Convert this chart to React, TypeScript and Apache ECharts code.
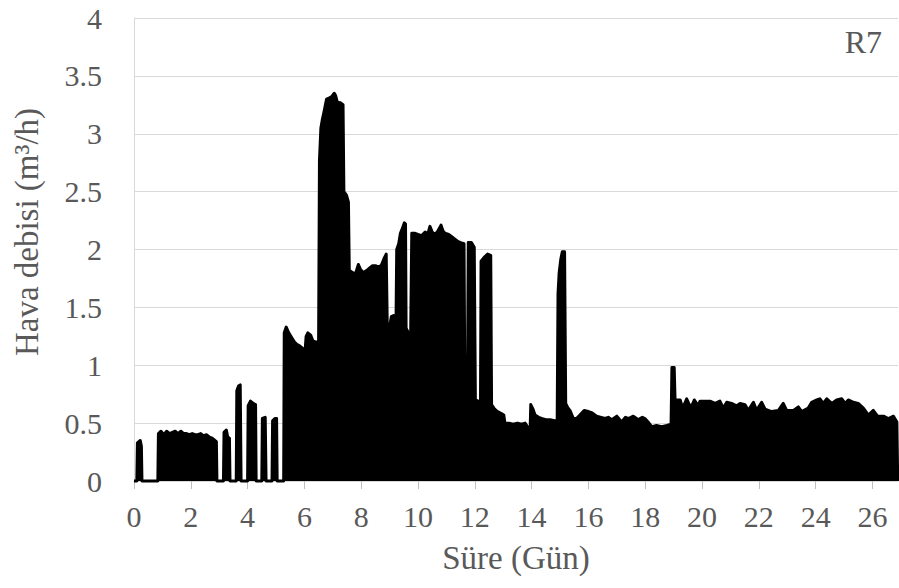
import React, { useEffect, useRef } from "react";
import * as echarts from "echarts";

// Time (days) and air flow rate (m3/h)
const times: number[] = [
  0, 0.10, 0.12, 0.22, 0.26, 0.28, 0.84, 0.86, 0.95, 1.05, 1.15, 1.25, 1.35, 1.45, 1.55, 1.65,
  1.75, 1.85, 1.95, 2.05, 2.15, 2.25, 2.35, 2.45, 2.55, 2.65, 2.75, 2.85, 2.90, 2.92, 3.15, 3.17,
  3.25, 3.30, 3.36, 3.38, 3.60, 3.62, 3.68, 3.74, 3.77, 4.00, 4.02, 4.10, 4.20, 4.28, 4.30, 4.50,
  4.52, 4.62, 4.65, 4.86, 4.88, 4.96, 5.02, 5.04, 5.27, 5.29, 5.36, 5.45, 5.55, 5.65, 5.73, 5.82,
  5.92, 6.02, 6.06, 6.12, 6.22, 6.30, 6.40, 6.50, 6.53, 6.58, 6.63, 6.70, 6.78, 6.88, 6.96, 7.05,
  7.10, 7.17, 7.25, 7.36, 7.39, 7.48, 7.55, 7.58, 7.70, 7.80, 7.90, 7.97, 8.07, 8.20, 8.30, 8.40,
  8.50, 8.60, 8.70, 8.80, 8.88, 8.92, 9.00, 9.06, 9.14, 9.17, 9.22, 9.25, 9.32, 9.38, 9.46, 9.52,
  9.56, 9.58, 9.68, 9.74, 9.78, 9.88, 10.00, 10.13, 10.25, 10.35, 10.42, 10.50, 10.60, 10.70, 10.81, 10.88,
  10.95, 11.08, 11.19, 11.30, 11.40, 11.50, 11.62, 11.65, 11.74, 11.77, 11.88, 11.98, 12.02, 12.12, 12.20, 12.22,
  12.32, 12.45, 12.56, 12.59, 12.70, 12.80, 12.95, 13.02, 13.06, 13.20, 13.35, 13.50, 13.65, 13.77, 13.88, 13.95,
  13.97, 14.05, 14.12, 14.25, 14.35, 14.50, 14.65, 14.80, 14.90, 14.93, 14.97, 15.03, 15.08, 15.16, 15.20, 15.28,
  15.35, 15.47, 15.58, 15.70, 15.85, 16.00, 16.12, 16.29, 16.45, 16.58, 16.70, 16.82, 17.00, 17.17, 17.30, 17.41,
  17.58, 17.76, 17.90, 17.99, 18.10, 18.23, 18.40, 18.58, 18.76, 18.91, 18.94, 19.02, 19.05, 19.23, 19.32, 19.46,
  19.55, 19.64, 19.73, 19.87, 19.93, 20.11, 20.28, 20.46, 20.63, 20.75, 20.87, 21.04, 21.22, 21.34, 21.51, 21.63,
  21.81, 21.92, 22.10, 22.22, 22.45, 22.69, 22.86, 22.98, 23.22, 23.39, 23.51, 23.74, 23.86, 24.04, 24.15, 24.27,
  24.39, 24.57, 24.74, 24.92, 25.04, 25.15, 25.33, 25.50, 25.68, 25.86, 26.03, 26.18, 26.39, 26.56, 26.74, 26.86,
  26.89,
];

const flow: number[] = [
  0, 0, 0.33, 0.35, 0.30, 0, 0, 0.41, 0.43, 0.40, 0.43, 0.41, 0.42, 0.43, 0.41, 0.43,
  0.41, 0.41, 0.40, 0.41, 0.40, 0.40, 0.41, 0.39, 0.40, 0.38, 0.37, 0.35, 0.34, 0, 0, 0.42,
  0.44, 0.38, 0.37, 0, 0, 0.78, 0.82, 0.83, 0, 0, 0.65, 0.69, 0.67, 0.66, 0, 0,
  0.54, 0.55, 0, 0, 0.52, 0.54, 0.54, 0, 0, 1.28, 1.33, 1.28, 1.24, 1.20, 1.18, 1.17,
  1.15, 1.11, 1.25, 1.28, 1.26, 1.21, 1.20, 1.20, 2.77, 3.05, 3.12, 3.20, 3.30, 3.31, 3.32, 3.35,
  3.33, 3.26, 3.27, 3.25, 2.50, 2.47, 2.41, 1.82, 1.80, 1.79, 1.87, 1.83, 1.80, 1.82, 1.84, 1.86,
  1.86, 1.85, 1.86, 1.92, 1.96, 1.30, 1.33, 1.42, 1.43, 1.24, 1.22, 2.00, 2.05, 2.14, 2.19, 2.23,
  2.22, 1.32, 1.27, 1.25, 2.14, 2.14, 2.13, 2.12, 2.15, 2.14, 2.20, 2.15, 2.13, 2.16, 2.21, 2.16,
  2.14, 2.13, 2.11, 2.09, 2.07, 2.06, 2.05, 0.72, 0.72, 2.06, 2.06, 2.02, 0.70, 0.69, 0.68, 1.90,
  1.93, 1.96, 1.95, 0.66, 0.62, 0.60, 0.58, 0.57, 0.50, 0.50, 0.49, 0.50, 0.49, 0.50, 0.46, 0.46,
  0.66, 0.62, 0.57, 0.55, 0.54, 0.53, 0.53, 0.52, 0.52, 1.62, 1.80, 1.92, 1.98, 1.98, 0.67, 0.63,
  0.61, 0.54, 0.54, 0.57, 0.61, 0.60, 0.59, 0.56, 0.55, 0.54, 0.55, 0.53, 0.56, 0.51, 0.55, 0.54,
  0.56, 0.53, 0.55, 0.54, 0.51, 0.47, 0.48, 0.47, 0.48, 0.49, 0.98, 0.98, 0.70, 0.70, 0.63, 0.71,
  0.66, 0.65, 0.70, 0.65, 0.69, 0.69, 0.69, 0.67, 0.69, 0.63, 0.68, 0.67, 0.65, 0.67, 0.66, 0.61,
  0.68, 0.61, 0.68, 0.62, 0.60, 0.61, 0.67, 0.61, 0.61, 0.64, 0.60, 0.63, 0.68, 0.70, 0.71, 0.67,
  0.71, 0.67, 0.70, 0.71, 0.67, 0.70, 0.68, 0.67, 0.63, 0.57, 0.61, 0.56, 0.56, 0.54, 0.56, 0.51,
  0,
];

const xTicks: number[] = [0, 2, 4, 6, 8, 10, 12, 14, 16, 18, 20, 22, 24, 26];
const yTicks: number[] = [0, 0.5, 1, 1.5, 2, 2.5, 3, 3.5, 4];

const xName = "Süre (Gün)";
const yName = "Hava debisi (m³/h)";
const panelLabel = "R7";

const FONT = "Liberation Serif";
const TEXT = "#595959";

export default function App() {
  const ref = useRef<HTMLDivElement>(null);

  useEffect(() => {
    if (!ref.current) return;
    const chart = echarts.init(ref.current, undefined, { renderer: "svg" });
    const data = times.map((t, i) => [t, flow[i]]);
    const labelStyle = { fontFamily: FONT, fontSize: 30, color: TEXT, fontWeight: "normal" };
    chart.setOption({
      animation: false,
      backgroundColor: "#ffffff",
      textStyle: { fontFamily: FONT },
      grid: { left: 134, right: 1, top: 18, bottom: 107 },
      xAxis: {
        type: "value",
        min: 0,
        max: 26.9,
        interval: 2,
        name: xName,
        nameLocation: "middle",
        nameGap: 60,
        nameTextStyle: { ...labelStyle, fontSize: 33 },
        axisLine: { show: true, lineStyle: { color: "#d9d9d9", width: 1 } },
        axisTick: {
          show: true,
          length: 8,
          customValues: xTicks,
          lineStyle: { color: "#bfbfbf" },
        },
        axisLabel: {
          ...labelStyle,
          customValues: xTicks,
          margin: 20,
          formatter: (v: number) => (xTicks.indexOf(v) >= 0 ? String(v) : ""),
        },
        splitLine: { show: false },
      },
      yAxis: {
        type: "value",
        min: yTicks[0],
        max: yTicks[yTicks.length - 1],
        interval: 0.5,
        axisLine: { show: true, lineStyle: { color: "#d9d9d9", width: 1 } },
        axisTick: { show: false },
        axisLabel: {
          ...labelStyle,
          margin: 32,
          formatter: (v: number) => String(v),
        },
        splitLine: { show: true, lineStyle: { color: "#d9d9d9", width: 1 } },
      },
      graphic: [
        {
          type: "text",
          right: 17,
          top: 26,
          style: {
            text: panelLabel,
            fontFamily: FONT,
            fontSize: 32,
            fill: TEXT,
          },
        },
        {
          type: "text",
          x: 27,
          y: 232,
          rotation: Math.PI / 2,
          style: {
            text: yName,
            fontFamily: FONT,
            fontSize: 33,
            fill: TEXT,
            align: "center",
            verticalAlign: "middle",
          },
        },
      ],
      series: [
        {
          type: "line",
          data,
          symbol: "none",
          showSymbol: false,
          clip: false,
          lineStyle: { color: "#000000", width: 3, join: "round" },
          areaStyle: { color: "#000000", opacity: 1 },
        },
      ],
    });
    return () => chart.dispose();
  }, []);

  return (
    <div
      ref={ref}
      style={{ position: "fixed", left: 0, top: 0, width: 899, height: 588 }}
    />
  );
}
